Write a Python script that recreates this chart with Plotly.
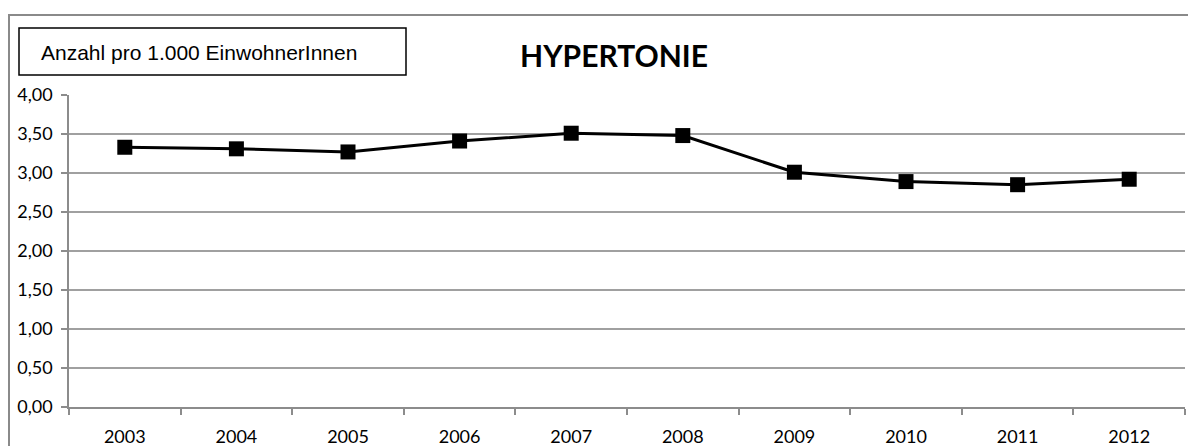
import plotly.graph_objects as go

# Hypertonie: Anzahl pro 1.000 EinwohnerInnen, 2003-2012
years = ["2003", "2004", "2005", "2006", "2007", "2008", "2009", "2010", "2011", "2012"]
rates = [3.33, 3.31, 3.27, 3.41, 3.51, 3.48, 3.01, 2.89, 2.85, 2.92]
y_ticks = [0, 0.5, 1.0, 1.5, 2.0, 2.5, 3.0, 3.5, 4.0]
y_tick_labels = ["0,00", "0,50", "1,00", "1,50", "2,00", "2,50", "3,00", "3,50", "4,00"]

W, H = 1188, 446
ML, MR, MT, MB = 69, 3, 95, 39
PW, PH = W - ML - MR, H - MT - MB


def px(x):
    return (x - ML) / PW


def py(y):
    return (H - MB - y) / PH


fig = go.Figure()
fig.add_trace(go.Scatter(
    x=years, y=rates, mode="lines+markers",
    line=dict(color="black", width=3),
    marker=dict(symbol="square", size=15, color="black"),
    showlegend=False, hoverinfo="x+y",
))

axis_font = dict(family="Lato, Carlito, sans-serif", size=18, color="#000")

fig.update_layout(
    width=W, height=H,
    margin=dict(l=ML, r=MR, t=MT, b=MB, autoexpand=False),
    paper_bgcolor="white", plot_bgcolor="white",
    title=dict(
        text="<b>HYPERTONIE</b>",
        x=614 / W, xanchor="center",
        y=1 - 56 / H, yanchor="middle",
        font=dict(family="Lato, Carlito, sans-serif", size=30, color="#000"),
    ),
    xaxis=dict(
        type="category", range=[-0.5, len(years) - 0.5], tickfont=axis_font,
        showline=True, linecolor="#8c8c8c", linewidth=1.5,
        ticks="outside", tickson="boundaries", ticklen=6,
        tickcolor="#8c8c8c", tickwidth=1.5,
        showgrid=False, ticklabelstandoff=13, automargin=False,
    ),
    yaxis=dict(
        range=[0, 4], tickvals=y_ticks, ticktext=y_tick_labels,
        tickfont=axis_font,
        showline=True, linecolor="#8c8c8c", linewidth=1.5,
        ticks="outside", ticklen=6, tickcolor="#8c8c8c", tickwidth=1.5,
        showgrid=True, gridcolor="#a0a0a0", gridwidth=1.5,
        zeroline=False, ticklabelstandoff=5, automargin=False,
    ),
    shapes=[
        # outer chart frame
        dict(type="rect", xref="paper", yref="paper",
             x0=px(9), x1=px(W + 20), y0=py(H + 20), y1=py(15),
             line=dict(color="#8a8a8a", width=2), layer="below"),
        # label box
        dict(type="rect", xref="paper", yref="paper",
             x0=px(19), x1=px(406), y0=py(75), y1=py(28),
             line=dict(color="black", width=1.5), fillcolor="white"),
    ],
    annotations=[
        dict(text="Anzahl pro 1.000 EinwohnerInnen", xref="paper", yref="paper",
             x=px(39), y=py(52), xanchor="left", yanchor="middle",
             showarrow=False,
             font=dict(family="Liberation Sans, Arial, sans-serif", size=21, color="#000")),
    ],
)

fig.write_html("out.html")
